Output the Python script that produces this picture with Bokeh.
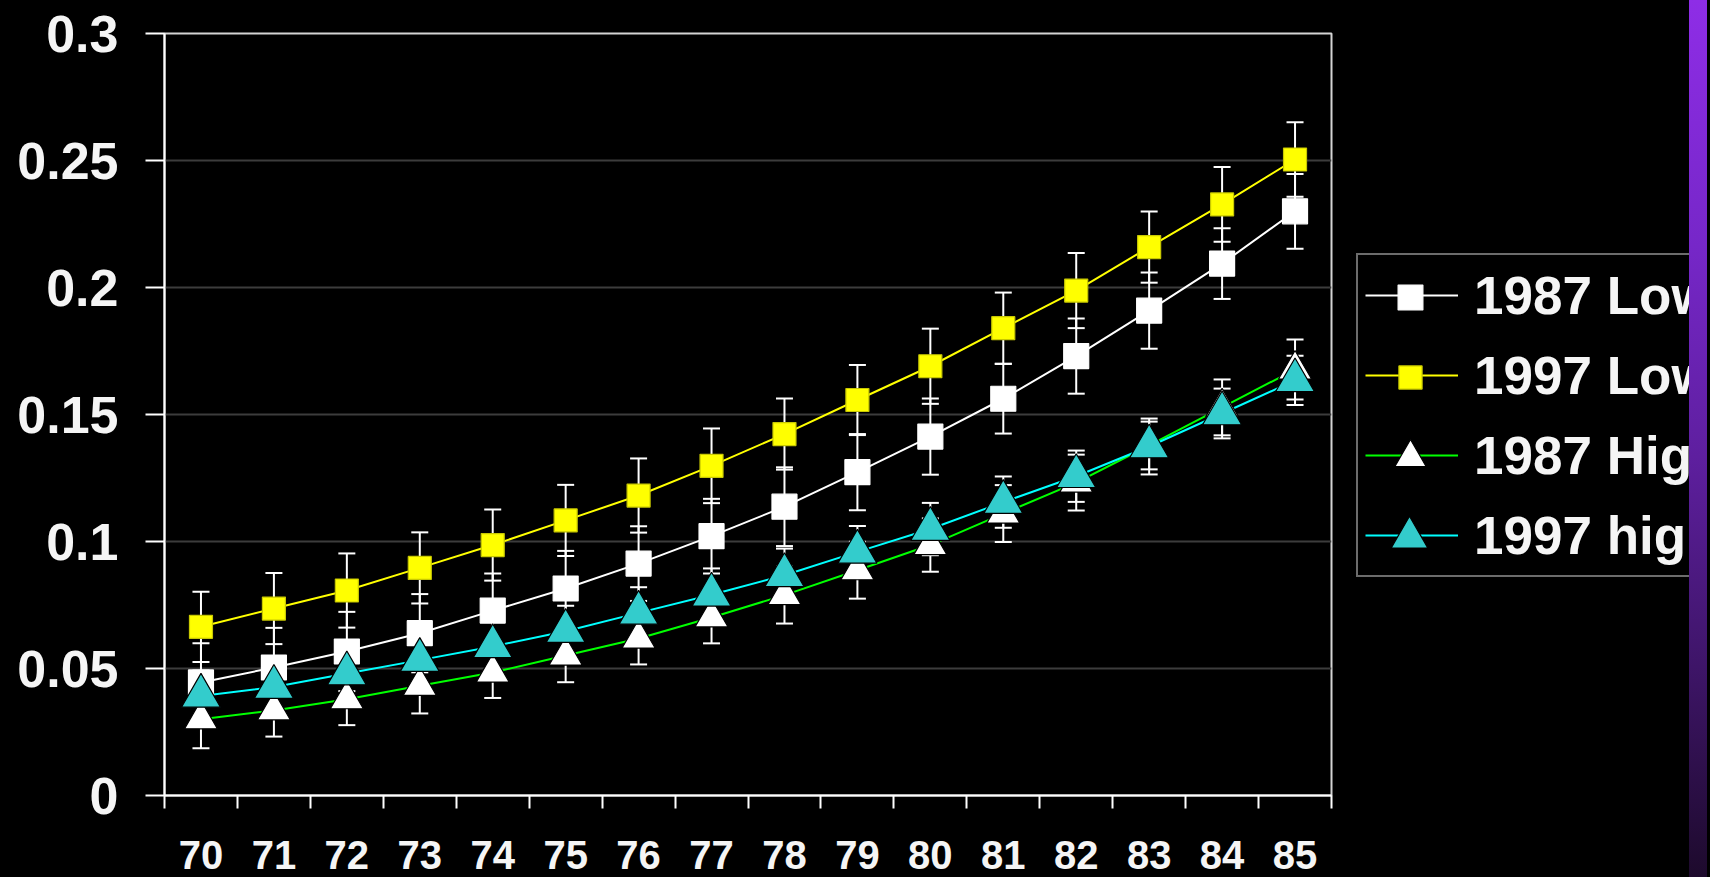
from bokeh.plotting import figure
from bokeh.models import (ColumnDataSource, Range1d, FixedTicker, Legend, LegendItem,
                          Whisker, TeeHead, Div)
from bokeh.layouts import row
from bokeh.embed import file_html
from bokeh.resources import INLINE

# Age (years) on the x axis
ages = [70, 71, 72, 73, 74, 75, 76, 77, 78, 79, 80, 81, 82, 83, 84, 85]
age_labels = ["70", "71", "72", "73", "74", "75", "76", "77",
              "78", "79", "80", "81", "82", "83", "84", "85"]

# Series values
low_1987 = [0.0445, 0.0504, 0.0567, 0.0639, 0.0728, 0.0815, 0.0913, 0.1021,
            0.1137, 0.1273, 0.1413, 0.1562, 0.1730, 0.1909, 0.2094, 0.2300]
low_1997 = [0.0664, 0.0736, 0.0807, 0.0896, 0.0986, 0.1083, 0.1181, 0.1298,
            0.1423, 0.1557, 0.1690, 0.1840, 0.1988, 0.2159, 0.2327, 0.2504]
high_1987 = [0.0300, 0.0335, 0.0379, 0.0432, 0.0484, 0.0551, 0.0618, 0.0701,
             0.0789, 0.0887, 0.0986, 0.1110, 0.1232, 0.1378, 0.1528, 0.1677]
high_1997 = [0.0392, 0.0427, 0.0480, 0.0533, 0.0587, 0.0647, 0.0719, 0.0790,
             0.0867, 0.0959, 0.1049, 0.1155, 0.1257, 0.1374, 0.1504, 0.1634]

# Error bar half-widths
err_low_1987 = [0.0154, 0.0156, 0.0156, 0.0154, 0.0146, 0.0148, 0.0147, 0.0147,
                0.0155, 0.0150, 0.0150, 0.0137, 0.0148, 0.0150, 0.0139, 0.0147]
err_low_1997 = [0.0138, 0.0140, 0.0146, 0.0140, 0.0140, 0.0140, 0.0146, 0.0147,
                0.0140, 0.0138, 0.0148, 0.0140, 0.0148, 0.0140, 0.0147, 0.0147]
err_high_1987 = [0.0114, 0.0103, 0.0102, 0.0109, 0.0100, 0.0105, 0.0102, 0.0102,
                 0.0112, 0.0112, 0.0105, 0.0112, 0.0110, 0.0094, 0.0110, 0.0118]
err_high_1997 = [0.0100, 0.0101, 0.0100, 0.0102, 0.0101, 0.0100, 0.0101, 0.0104,
                 0.0105, 0.0102, 0.0103, 0.0101, 0.0101, 0.0110, 0.0098, 0.0097]

series_names = ["1987 Low", "1997 Low", "1987 High", "1997 high"]

y_ticks = [0, 0.05, 0.1, 0.15, 0.2, 0.25, 0.3]
y_tick_labels = ["0", "0.05", "0.1", "0.15", "0.2", "0.25", "0.3"]

FONT = "Liberation Sans"
H = 877

# ---------------------------------------------------------------- main chart
p = figure(width=1345, height=H, output_backend="svg", toolbar_location=None,
           x_range=Range1d(69.5, 85.5), y_range=Range1d(0, 0.3),
           min_border_left=164, min_border_right=14, min_border_top=33,
           min_border_bottom=82)
p.background_fill_color = "black"
p.border_fill_color = "black"
p.outline_line_color = "#d4d4d4"
p.outline_line_width = 2

# y axis
p.yaxis.ticker = FixedTicker(ticks=y_ticks)
p.yaxis.major_label_overrides = {t: s for t, s in zip(y_ticks, y_tick_labels)}
p.yaxis.axis_line_color = "white"
p.yaxis.axis_line_width = 2
p.yaxis.major_tick_line_color = "white"
p.yaxis.major_tick_line_width = 2
p.yaxis.major_tick_out = 19
p.yaxis.major_tick_in = 0
p.yaxis.minor_tick_line_color = None
p.yaxis.major_label_standoff = 27
p.yaxis.major_label_text_font = FONT
p.yaxis.major_label_text_font_size = "52px"
p.yaxis.major_label_text_font_style = "bold"
p.yaxis.major_label_text_color = "#f5f5f5"

# x axis: labels at category centres, tick marks on category boundaries
boundaries = [a - 0.5 for a in ages] + [ages[-1] + 0.5]
p.xaxis.ticker = FixedTicker(ticks=ages, minor_ticks=boundaries)
p.xaxis.major_label_overrides = {a: s for a, s in zip(ages, age_labels)}
p.xaxis.axis_line_color = "white"
p.xaxis.axis_line_width = 2
p.xaxis.major_tick_line_color = None
p.xaxis.major_tick_out = 0
p.xaxis.major_tick_in = 0
p.xaxis.minor_tick_line_color = "white"
p.xaxis.minor_tick_line_width = 2
p.xaxis.minor_tick_out = 13
p.xaxis.minor_tick_in = 0
p.xaxis.major_label_standoff = 32
p.xaxis.major_label_text_font = FONT
p.xaxis.major_label_text_font_size = "40px"
p.xaxis.major_label_text_font_style = "bold"
p.xaxis.major_label_text_color = "#f5f5f5"

p.xgrid.grid_line_color = None
p.ygrid.ticker = FixedTicker(ticks=y_ticks)
p.ygrid.grid_line_color = "#3c3c3c"
p.ygrid.grid_line_width = 2

styles = [
    # values, errors, line colour, marker, size, fill, outline
    (low_1987, err_low_1987, "#ffffff", "square", 25, "#ffffff", "#ffffff"),
    (low_1997, err_low_1997, "#ffff00", "square", 23, "#ffff00", "#c8c800"),
    (high_1987, err_high_1987, "#00ff00", "triangle", 33, "#ffffff", "#000000"),
    (high_1997, err_high_1997, "#00ffff", "triangle", 39, "#33cccc", "#000000"),
]

sources = []
for vals, errs, *_ in styles:
    sources.append(ColumnDataSource(dict(
        x=ages, y=vals,
        upper=[v + e for v, e in zip(vals, errs)],
        lower=[v - e for v, e in zip(vals, errs)],
    )))

# error bars sit underneath the lines and markers
for src in sources:
    p.add_layout(Whisker(source=src, base="x", upper="upper", lower="lower",
                         dimension="height", line_color="white", line_width=2,
                         upper_head=TeeHead(size=17, line_color="white", line_width=2),
                         lower_head=TeeHead(size=17, line_color="white", line_width=2),
                         level="underlay"))

for src, (vals, errs, lc, *_rest) in zip(sources, styles):
    p.line("x", "y", source=src, line_color=lc, line_width=2)

for src, (vals, errs, lc, mk, sz, fc, oc) in zip(sources, styles):
    p.scatter("x", "y", source=src, marker=mk, size=sz,
              fill_color=fc, line_color=oc, line_width=1.2)

# ---------------------------------------------------------------- legend panel
lg = figure(width=344, height=H, output_backend="svg", toolbar_location=None,
            x_axis_type=None, y_axis_type=None, x_range=Range1d(0, 1),
            y_range=Range1d(0, 1), min_border=0)
lg.background_fill_color = "black"
lg.border_fill_color = "black"
lg.outline_line_color = None
lg.grid.visible = False

# legend layout (screen px, measured from the panel's frame bottom-left)
LX, LY = 11, 218
PAD, GLYPH_W, ROW_H, GAP = 7, 93, 66, 14
box_h = 2 * PAD + 4 * ROW_H + 3 * GAP
glyph_cx = LX + PAD + GLYPH_W / 2
# legend marker size = 0.4 * glyph box; boxes chosen per series
legend_marker_box = [62, 58, 78, 92]

nan = float("nan")
line_items = []
marker_legends = []
for i, (name, (vals, errs, lc, mk, sz, fc, oc)) in enumerate(zip(series_names, styles)):
    # legend swatches only; nothing is plotted in this panel
    lr = lg.line(x=[nan], y=[nan], line_color=lc, line_width=2)
    mr = lg.scatter(x=[nan], y=[nan], marker=mk, size=sz, fill_color=fc,
                    line_color=oc, line_width=1.2)
    line_items.append(LegendItem(label=name, renderers=[lr]))

    g = legend_marker_box[i]
    row_cy = LY + box_h - PAD - ROW_H / 2 - i * (ROW_H + GAP)
    marker_legends.append(Legend(
        items=[LegendItem(label=" ", renderers=[mr])],
        location=(round(glyph_cx - g / 2), round(row_cy - g / 2)),
        glyph_width=g, glyph_height=g, padding=0, margin=0, spacing=0,
        label_standoff=0, label_width=0, label_height=0,
        label_text_font_size="1px", background_fill_alpha=0,
        border_line_color=None))

legend = Legend(items=line_items, location=(LX, LY), orientation="vertical",
                glyph_width=GLYPH_W, glyph_height=ROW_H, spacing=GAP, padding=PAD,
                margin=0, label_standoff=16, label_text_font=FONT,
                label_text_font_size="53px", label_text_font_style="bold",
                label_text_color="#f5f5f5",
                background_fill_color="black", background_fill_alpha=1,
                border_line_color="#d8d8d8", border_line_width=2)
lg.add_layout(legend)
for ml in marker_legends:
    lg.add_layout(ml)

# ---------------------------------------------------------------- violet edge strip
strip = Div(width=21, height=H, margin=0, styles={
    "background": "linear-gradient(to right, rgba(0,0,0,0) 0px, rgba(0,0,0,0) 18px, #000 18px, #000 21px), "
                  "linear-gradient(to bottom, #8e2de6 0%, #7627c8 28%, #5e1f9f 52%, #3e1568 76%, #1d0a2c 100%)"
})

layout = row(p, lg, strip, spacing=0, styles={"background-color": "black"})
open("out.html", "w").write(file_html(layout, INLINE))
